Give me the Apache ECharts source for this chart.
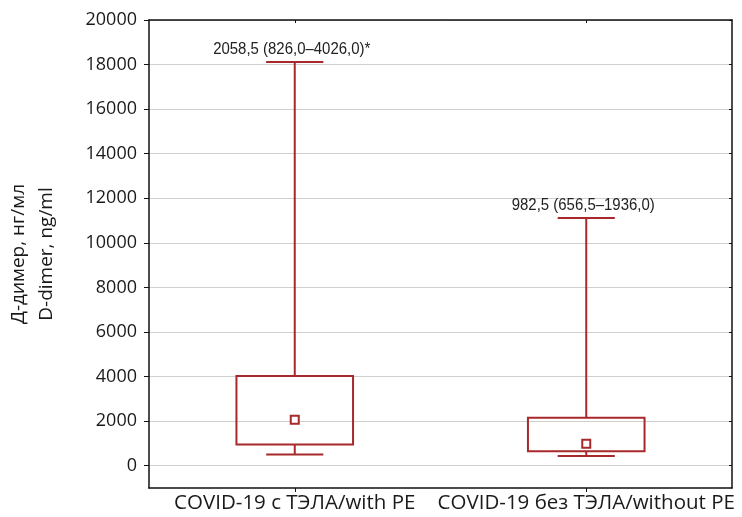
<!DOCTYPE html>
<html><head><meta charset="utf-8">
<script src="https://cdn.jsdelivr.net/npm/echarts@6/dist/echarts.min.js"></script>
<style>html,body{margin:0;padding:0;background:#fff}#c{width:742px;height:517px}</style>
</head><body><div id="c"></div>
<script>
var categories = ['COVID-19 с ТЭЛА/with PE', 'COVID-19 без ТЭЛА/without PE'];
var whiskerMin = [500, 440];
var q1 = [950, 645];
var median = [2058.5, 982.5];
var q3 = [4026, 2150];
var whiskerMax = [18120, 11110];
var annotations = ['2058,5 (826,0\u20134026,0)*', '982,5 (656,5\u20131936,0)'];
var yTicks = [0, 2000, 4000, 6000, 8000, 10000, 12000, 14000, 16000, 18000, 20000];

var RED = '#a8292b';
var data = categories.map(function (c, i) {
  return [i, whiskerMin[i], q1[i], median[i], q3[i], whiskerMax[i]];
});

function renderItem(params, api) {
  var i = api.value(0);
  var pMin = api.coord([i, api.value(1)]);
  var pQ1 = api.coord([i, api.value(2)]);
  var pMed = api.coord([i, api.value(3)]);
  var pQ3 = api.coord([i, api.value(4)]);
  var pMax = api.coord([i, api.value(5)]);
  var bw = api.size([1, 0])[0] * 0.4;
  var cw = bw * 0.49;
  var x = pQ1[0];
  var ls = { stroke: RED, lineWidth: 2, fill: null };
  return {
    type: 'group',
    children: [
      { type: 'line', shape: { x1: x, y1: pMax[1], x2: x, y2: pQ3[1] }, style: ls },
      { type: 'line', shape: { x1: x, y1: pQ1[1], x2: x, y2: pMin[1] }, style: ls },
      { type: 'line', shape: { x1: x - cw / 2, y1: pMax[1], x2: x + cw / 2, y2: pMax[1] }, style: ls },
      { type: 'line', shape: { x1: x - cw / 2, y1: pMin[1], x2: x + cw / 2, y2: pMin[1] }, style: ls },
      { type: 'rect', shape: { x: x - bw / 2, y: pQ3[1], width: bw, height: pQ1[1] - pQ3[1] }, style: { stroke: RED, lineWidth: 2, fill: 'rgba(0,0,0,0)' } },
      { type: 'rect', shape: { x: x - 4, y: pMed[1] - 4, width: 8, height: 8 }, style: { stroke: RED, lineWidth: 2, fill: '#fff' } },
      { type: 'text', x: x - 3, y: pMax[1] - 4, scaleX: 0.88, style: { text: annotations[params.dataIndex], fill: '#222', font: '17px "Liberation Sans", sans-serif', align: 'center', verticalAlign: 'bottom' } }
    ]
  };
}

var axisFont = '"Open Sans", sans-serif';
var chart = echarts.init(document.getElementById('c'));
chart.setOption({
  animation: false,
  grid: { left: 149, right: 10, top: 20, bottom: 29, show: false, containLabel: false, outerBoundsMode: 'none' },
  xAxis: [
    { type: 'category', data: categories, boundaryGap: true, position: 'bottom',
      axisLine: { show: true, onZero: false, lineStyle: { color: '#111', width: 1.5 } },
      axisTick: { show: true, alignWithLabel: true, length: 4, lineStyle: { color: '#111' } },
      axisLabel: { color: '#1a1a1a', fontSize: 20.5, fontFamily: axisFont, margin: 5, interval: 0, hideOverlap: false },
      splitLine: { show: false } },
    { type: 'category', data: categories, position: 'top', boundaryGap: true,
      axisLine: { show: true, onZero: false, lineStyle: { color: '#111', width: 1.5 } },
      axisTick: { show: true, alignWithLabel: true, inside: true, length: 3, lineStyle: { color: '#111' } },
      axisLabel: { show: false }, splitLine: { show: false } }
  ],
  yAxis: [
    { type: 'value', min: -1000, max: 20000, position: 'left',
      name: 'Д-димер, нг/мл\nD-dimer, ng/ml', nameLocation: 'middle', nameGap: 88, nameRotate: 90,
      nameTextStyle: { color: '#1a1a1a', fontSize: 19, fontFamily: axisFont, lineHeight: 28 },
      axisLine: { show: true, onZero: false, lineStyle: { color: '#111', width: 1.5 } },
      axisTick: { show: true, length: 5, customValues: yTicks, lineStyle: { color: '#111' } },
      axisLabel: { color: '#1a1a1a', fontSize: 18, fontFamily: axisFont, margin: 12, customValues: yTicks,
        formatter: function (v) { return String(v); } },
      splitLine: { show: true, lineStyle: { color: '#cfcfcf', width: 1 } } },
    { type: 'value', min: -1000, max: 20000, position: 'right',
      axisLine: { show: true, onZero: false, lineStyle: { color: '#111', width: 1.5 } },
      axisTick: { show: true, inside: true, length: 3, customValues: yTicks, lineStyle: { color: '#111' } },
      axisLabel: { show: false }, splitLine: { show: false } }
  ],
  series: [{ type: 'custom', renderItem: renderItem, data: data, xAxisIndex: 0, yAxisIndex: 0,
    encode: { x: 0, y: [1, 2, 3, 4, 5] }, clip: false, z: 5 }]
});
</script></body></html>
